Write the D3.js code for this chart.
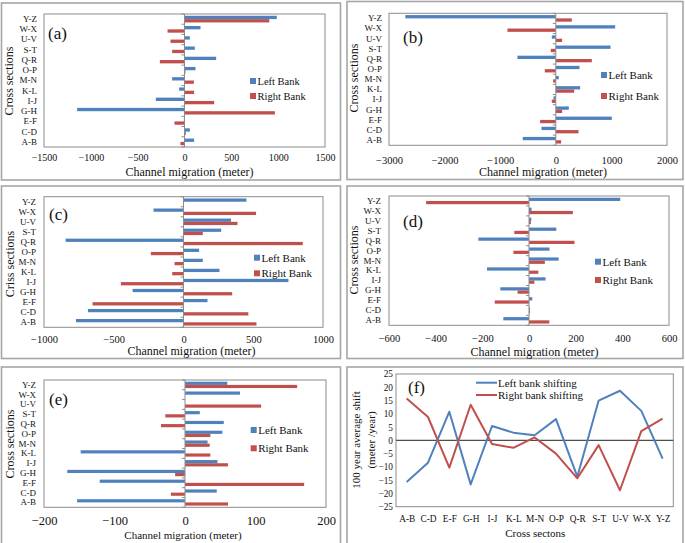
<!DOCTYPE html>
<html><head><meta charset="utf-8">
<script src="https://cdn.jsdelivr.net/npm/d3@7"></script>
<style>body{margin:0;background:#fff}svg{display:block}text{font-family:"Liberation Serif","Times New Roman",Times,"DejaVu Serif",serif;fill:#111}</style>
</head><body><svg id="c" width="685" height="543"></svg>
<script>
const categories = ["A-B","C-D","E-F","G-H","I-J","K-L","M-N","O-P","Q-R","S-T","U-V","W-X","Y-Z"];
const seriesNames = ["Left Bank","Right Bank"];
const lineSeriesNames = ["Left bank shifting","Right bank shifting"];

const aLeft  = [103, 57, -7, -1146, -306, -57, -132, 117, 338, 110, 57, 171, 985];
const aRight = [-43, 14, -107, 965, 317, 103, 100, 10, -263, -132, -150, -181, 905];
const aTicks = [-1500, -1000, -500, 0, 500, 1000, 1500];

const bLeft  = [-594, -258, 1008, 234, -42, 438, 54, 426, -690, 984, -72, 1068, -2706];
const bRight = [96, 408, -282, 114, -72, 330, -48, -198, 648, -90, 114, -870, 288];
const bTicks = [-3000, -2000, -1000, 0, 1000, 2000];

const cLeft  = [-771, -685, 172, -365, 752, 258, 138, 112, -845, 270, 341, -215, 451];
const cRight = [523, 465, -652, 349, -449, -81, -64, -234, 855, 138, 387, 520, 0];
const cTicks = [-1000, -500, 0, 500, 1000];

const dLeft  = [-110, 4, 14, -123, 71, -180, 127, 88, -217, 117, 10, 11, 391];
const dRight = [87, 4, -147, -49, 23, 40, 68, -67, 195, -63, 8, 188, -441];
const dTicks = [-600, -400, -200, 0, 200, 400, 600];

const eLeft  = [-153, 45, -121, -167, 46, -148, 32, 53, 55, 21, 0, 78, 60];
const eRight = [61, -20, 169, -14, 61, 36, 35, 36, -34, -28, 108, 0, 159];
const eTicks = [-200, -100, 0, 100, 200];

const fLeft  = [-15.7, -8.4, 10.8, -16.6, 5.4, 2.9, 1.9, 8.0, -13.7, 15.0, 18.7, 11.1, -6.9];
const fRight = [15.8, 8.8, -10.3, 13.4, -1.4, -2.8, 1.1, -5.0, -14.3, -1.8, -18.8, 3.5, 8.2];
const fTicks = [-25, -20, -15, -10, -5, 0, 5, 10, 15, 20, 25];

const BLUE = "#4F81BD", RED = "#C0504D";
const FONT = "'Liberation Serif','Times New Roman',Times,'DejaVu Serif',serif";
const svg = d3.select("#c");

// panel frames
[[1.5,3,339,177],[347,1.5,336,178],[1.5,186,339,172.5],[347,186,336,172.5],[1.5,367,339,190],[347,367,336,190]]
  .forEach(r => svg.append("rect").attr("x",r[0]).attr("y",r[1]).attr("width",r[2]).attr("height",r[3])
    .attr("fill","none").attr("stroke","#a6a6a6").attr("stroke-width",1.6));

function barPanel(o, left, right, ticks) {
  const g = svg.append("g");
  const x = d3.scaleLinear().domain([ticks[0], ticks[ticks.length-1]]).range([o.x0, o.x1]);
  const y0 = d3.scaleBand().domain(categories.slice().reverse()).range([o.y0, o.y1]).paddingInner(0.35).paddingOuter(0.175);
  const y1 = d3.scaleBand().domain(seriesNames).range([0, y0.bandwidth()]);
  const step = y0.step();
  g.append("rect").attr("x",o.x0).attr("y",o.y0).attr("width",o.x1-o.x0).attr("height",o.y1-o.y0)
    .attr("fill","none").attr("stroke","#8c8c8c").attr("stroke-width",1);
  const data = [];
  categories.forEach((c,i)=>{ data.push({c, s:seriesNames[0], v:left[i]}); data.push({c, s:seriesNames[1], v:right[i]}); });
  g.selectAll(".bar").data(data).join("rect")
    .attr("x", d => x(Math.min(0,d.v)))
    .attr("width", d => Math.abs(x(d.v)-x(0)))
    .attr("y", d => y0(d.c) + y1(d.s))
    .attr("height", y1.bandwidth())
    .attr("fill", d => d.s===seriesNames[0] ? BLUE : RED);
  g.append("line").attr("x1",x(0)).attr("x2",x(0)).attr("y1",o.y0).attr("y2",o.y1).attr("stroke","#8c8c8c");
  d3.range(categories.length+1).forEach(k=>{
    const yy = o.y1 - k*step;
    g.append("line").attr("x1",x(0)-3).attr("x2",x(0)).attr("y1",yy).attr("y2",yy).attr("stroke","#8c8c8c");
  });
  const ax = g.append("g").attr("transform",`translate(0,${o.y1})`)
    .call(d3.axisBottom(x).tickValues(ticks).tickSize(0).tickPadding(o.tickPad).tickFormat(d3.format("d")));
  ax.select(".domain").remove();
  ax.attr("font-family",FONT);
  ax.selectAll("text").style("font-size",o.tickFs+"px").attr("fill","#111");
  const ay = g.append("g").attr("transform",`translate(${o.x0},0)`)
    .call(d3.axisLeft(y0).tickSize(0).tickPadding(o.catPad));
  ay.select(".domain").remove();
  ay.attr("font-family",FONT);
  ay.selectAll("text").style("font-size","9px").attr("fill","#111");
  g.append("text").attr("x",o.xtX).attr("y",o.xtY).attr("text-anchor","middle").attr("dominant-baseline","central")
    .style("font-size",o.xtFs+"px").text("Channel migration (meter)");
  g.append("text").attr("transform",`translate(${o.ytX},${o.ytY}) rotate(-90)`).attr("text-anchor","middle")
    .attr("dominant-baseline","central").style("font-size","12px").text(o.yTitle);
  g.append("text").attr("x",o.lblX).attr("y",o.lblY).style("font-size","17px").text(o.label);
  seriesNames.forEach((s,i)=>{
    const ly = i===0 ? o.legY1 : o.legY2;
    g.append("rect").attr("x",o.legX).attr("y",ly-3).attr("width",6).attr("height",6).attr("fill", i===0?BLUE:RED);
    g.append("text").attr("x",o.legX+7.5).attr("y",ly).attr("dominant-baseline","central")
      .style("font-size",o.legFs+"px").text(s);
  });
}

barPanel({x0:44,x1:325,y0:14,y1:147,tickPad:7,tickFs:10,catPad:7,xtX:189.5,xtY:172,xtFs:12,ytX:9,ytY:81,
  yTitle:"Cross sections",label:"(a)",lblX:48,lblY:38.5,legX:250,legY1:81,legY2:96,legFs:10.5}, aLeft, aRight, aTicks);
barPanel({x0:389,x1:667,y0:13.3,y1:145.3,tickPad:11,tickFs:10.5,catPad:7,xtX:543,xtY:172,xtFs:12,ytX:354,ytY:78,
  yTitle:"Cross sections",label:"(b)",lblX:403,lblY:43,legX:601,legY1:75,legY2:96,legFs:11}, bLeft, bRight, bTicks);
barPanel({x0:44,x1:323,y0:196.7,y1:327.3,tickPad:8.5,tickFs:10.5,catPad:8,xtX:191.5,xtY:351,xtFs:12,ytX:10,ytY:264,
  yTitle:"Criss sections",label:"(c)",lblX:49,lblY:220,legX:254,legY1:257.7,legY2:273.3,legFs:11}, cLeft, cRight, cTicks);
barPanel({x0:389,x1:669,y0:196,y1:325.3,tickPad:9,tickFs:10.5,catPad:8,xtX:534.5,xtY:351.7,xtFs:12,ytX:354,ytY:260,
  yTitle:"Cross sections",label:"(d)",lblX:403,lblY:227,legX:595,legY1:261.7,legY2:280,legFs:11}, dLeft, dRight, dTicks);
barPanel({x0:44,x1:326,y0:380,y1:507.3,tickPad:9,tickFs:12.5,catPad:8,xtX:183,xtY:534.5,xtFs:11,ytX:10,ytY:444,
  yTitle:"Cross sections",label:"(e)",lblX:49,lblY:405,legX:250.7,legY1:430,legY2:448.3,legFs:11}, eLeft, eRight, eTicks);

// panel (f)
(function(){
  const o = {x0:396,x1:673.3,y0:374,y1:506.7};
  const g = svg.append("g");
  const x = d3.scalePoint().domain(categories).range([o.x0, o.x1]).padding(0.5);
  const y = d3.scaleLinear().domain([fTicks[0], fTicks[fTicks.length-1]]).range([o.y1, o.y0]);
  g.append("rect").attr("x",o.x0).attr("y",o.y0).attr("width",o.x1-o.x0).attr("height",o.y1-o.y0)
    .attr("fill","none").attr("stroke","#8c8c8c").attr("stroke-width",1);
  g.append("line").attr("x1",o.x0).attr("x2",o.x1).attr("y1",y(0)).attr("y2",y(0)).attr("stroke","#4d4d4d").attr("stroke-width",1.2);
  const ay = g.append("g").attr("transform",`translate(${o.x0},0)`)
    .call(d3.axisLeft(y).tickValues(fTicks).tickSize(0).tickPadding(3));
  ay.select(".domain").remove();
  ay.attr("font-family",FONT);
  ay.selectAll("text").style("font-size","9.3px").attr("fill","#111");
  const ax = g.append("g").attr("transform",`translate(0,${o.y1})`)
    .call(d3.axisBottom(x).tickSize(0).tickPadding(9));
  ax.select(".domain").remove();
  ax.attr("font-family",FONT);
  ax.selectAll("text").style("font-size","9.3px").attr("fill","#111");
  const line = d3.line().x((d,i)=>x(categories[i])).y(d=>y(d));
  [[fLeft,BLUE],[fRight,RED]].forEach(([vals,col])=>{
    g.append("path").datum(vals).attr("d",line).attr("fill","none").attr("stroke",col).attr("stroke-width",2).attr("stroke-linejoin","round");
  });
  g.append("text").attr("x",535.3).attr("y",533.3).attr("text-anchor","middle").attr("dominant-baseline","central")
    .style("font-size","11px").text("Cross sectons");
  g.append("text").attr("transform","translate(356,440) rotate(-90)").attr("text-anchor","middle")
    .attr("dominant-baseline","central").style("font-size","11px").text("100 year average shift");
  g.append("text").attr("transform","translate(371,440) rotate(-90)").attr("text-anchor","middle")
    .attr("dominant-baseline","central").style("font-size","11px").text("(meter /year)");
  g.append("text").attr("x",408).attr("y",393).style("font-size","17px").text("(f)");
  lineSeriesNames.forEach((s,i)=>{
    const ly = i===0 ? 382.7 : 395;
    g.append("line").attr("x1",476).attr("x2",497).attr("y1",ly).attr("y2",ly).attr("stroke",i===0?BLUE:RED).attr("stroke-width",2);
    g.append("text").attr("x",498).attr("y",ly).attr("dominant-baseline","central").style("font-size","11px").text(s);
  });
})();
</script></body></html>
